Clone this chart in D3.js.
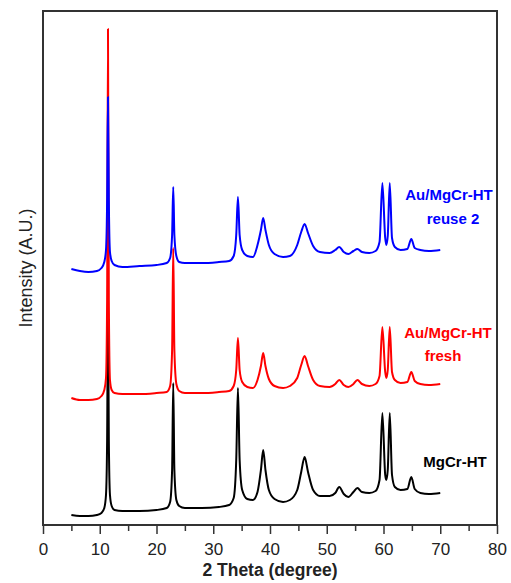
<!DOCTYPE html>
<html>
<head>
<meta charset="utf-8">
<script src="https://cdn.jsdelivr.net/npm/d3@7"></script>
<style>
  body { margin: 0; background: #fff; }
  text { font-family: "Liberation Sans", Arial, sans-serif; }
</style>
</head>
<body>
<script>

// 2 theta positions shared by all three patterns
var theta = [5.0, 6.5, 8.0, 9.5, 10.3, 10.8, 11.1, 11.3, 11.45, 11.6, 11.8, 12.1, 12.6, 14, 17, 20,
  21.8, 22.4, 22.75, 22.95, 23.15, 23.5, 24.0, 25, 28, 31, 32.8, 33.6, 34.05, 34.35, 34.65, 35.1,
  36, 37.0, 37.8, 38.4, 38.8, 39.2, 39.8, 40.8, 42.3, 43.5, 44.8, 45.5, 46.1, 46.7, 47.6, 48.8,
  50.5, 51.5, 52.2, 53.0, 53.8, 54.7, 55.4, 56.2, 57.5, 58.6, 59.3, 59.8, 60.3, 60.5, 60.75, 61.1,
  61.5, 62.0, 63.0, 64.2, 64.9, 65.5, 66.5, 68, 70];

var mgcrHT = [20, 18, 18, 20, 24, 34, 60, 170, 440, 170, 60, 38, 30, 28, 28, 30,
  34, 46, 110, 284, 110, 50, 38, 34, 34, 36, 40, 54, 130, 274, 130, 70,
  52, 50, 66, 110, 150, 110, 70, 52, 46, 50, 70, 106, 136, 106, 70, 58,
  58, 64, 76, 62, 56, 66, 74, 66, 64, 68, 90, 224, 100, 90, 110, 224,
  100, 76, 70, 72, 96, 72, 64, 62, 64];

var auFresh = [24, 20, 20, 22, 28, 40, 64, 220, 762, 220, 60, 40, 34, 32, 32, 34,
  36, 48, 120, 324, 120, 52, 38, 34, 34, 36, 38, 48, 80, 144, 80, 56,
  46, 44, 60, 88, 114, 88, 62, 48, 44, 48, 64, 90, 108, 88, 60, 48,
  46, 52, 60, 50, 46, 52, 60, 52, 48, 52, 68, 166, 76, 64, 80, 166,
  76, 60, 54, 56, 76, 58, 52, 50, 52];

var auReuse = [12, 8, 6, 8, 14, 26, 50, 150, 356, 150, 46, 28, 20, 16, 18, 20,
  24, 34, 80, 176, 80, 38, 26, 24, 24, 26, 28, 38, 80, 156, 80, 50,
  38, 36, 60, 90, 114, 90, 60, 42, 36, 38, 60, 86, 102, 84, 58, 46,
  44, 50, 56, 46, 42, 48, 52, 46, 44, 48, 66, 184, 74, 60, 78, 184,
  74, 56, 50, 52, 72, 54, 50, 48, 50];

var seriesNames = ["MgCr-HT", "Au/MgCr-HT fresh", "Au/MgCr-HT reuse 2"];
var seriesColors = ["#000000", "#ff0000", "#0000ff"];
var seriesOffsets = [0, 230, 500];
var xTicks = [0, 10, 20, 30, 40, 50, 60, 70, 80];
var xMinorTicks = [5, 15, 25, 35, 45, 55, 65, 75];

var width = 511,
    height = 583,
    plot = {left: 43, right: 497, top: 11, bottom: 525};

var svg = d3.select("body").append("svg")
    .attr("width", width)
    .attr("height", height);

var x = d3.scaleLinear()
    .domain([0, 80])
    .range([plot.left, plot.right]);

var y = d3.scaleLinear()
    .domain([0, 1028])
    .range([plot.bottom, plot.top]);

var allSeries = [mgcrHT, auFresh, auReuse];

var line = d3.line()
    .curve(d3.curveMonotoneX)
    .x(function(d) { return x(d.t); })
    .y(function(d) { return y(d.v); });

// traces, black first so red and blue sit on top
allSeries.forEach(function(vals, i) {
  var data = theta.map(function(t, j) { return {t: t, v: vals[j] + seriesOffsets[i]}; });
  svg.append("path")
      .datum(data)
      .attr("fill", "none")
      .attr("stroke", seriesColors[i])
      .attr("stroke-width", 2)
      .attr("stroke-linejoin", "round")
      .attr("d", line);
});

// minor ticks
svg.append("g")
    .attr("transform", "translate(0," + plot.bottom + ")")
    .call(d3.axisBottom(x).tickValues(xMinorTicks).tickSize(6).tickFormat(""))
    .call(function(g) { g.select(".domain").remove(); })
    .selectAll("line").attr("stroke", "#333").attr("stroke-width", 1.5);

// major ticks
var xAxis = svg.append("g")
    .attr("transform", "translate(0," + plot.bottom + ")")
    .call(d3.axisBottom(x).tickValues(xTicks).tickSize(9).tickPadding(9).tickFormat(d3.format("d")));
xAxis.select(".domain").remove();
xAxis.selectAll("line").attr("stroke", "#333").attr("stroke-width", 1.5);
xAxis.selectAll("text")
    .attr("fill", "#222")
    .style("font-size", "17px")
    .style("font-family", "Liberation Sans, Arial, sans-serif");

// frame
svg.append("rect")
    .attr("x", plot.left)
    .attr("y", plot.top)
    .attr("width", plot.right - plot.left)
    .attr("height", plot.bottom - plot.top)
    .attr("fill", "none")
    .attr("stroke", "#333")
    .attr("stroke-width", 2);

svg.append("text")
    .attr("x", (plot.left + plot.right) / 2)
    .attr("y", 576)
    .attr("text-anchor", "middle")
    .attr("fill", "#222")
    .style("font-size", "17.5px")
    .style("font-weight", "bold")
    .text("2 Theta (degree)");

svg.append("text")
    .attr("transform", "translate(32,268) rotate(-90)")
    .attr("text-anchor", "middle")
    .attr("fill", "#222")
    .style("font-size", "18px")
    .text("Intensity (A.U.)");

// trace labels
var labels = [
  {lines: ["MgCr-HT"], xs: [455], ys: [467], c: 0},
  {lines: ["Au/MgCr-HT", "fresh"], xs: [448, 443], ys: [338, 361], c: 1},
  {lines: ["Au/MgCr-HT", "reuse 2"], xs: [449, 453], ys: [200, 224], c: 2}
];
labels.forEach(function(l) {
  l.lines.forEach(function(s, k) {
    svg.append("text")
        .attr("x", l.xs[k])
        .attr("y", l.ys[k])
        .attr("text-anchor", "middle")
        .attr("fill", seriesColors[l.c])
        .style("font-size", "15px")
        .style("font-weight", "bold")
        .text(s);
  });
});
</script>
</body>
</html>
